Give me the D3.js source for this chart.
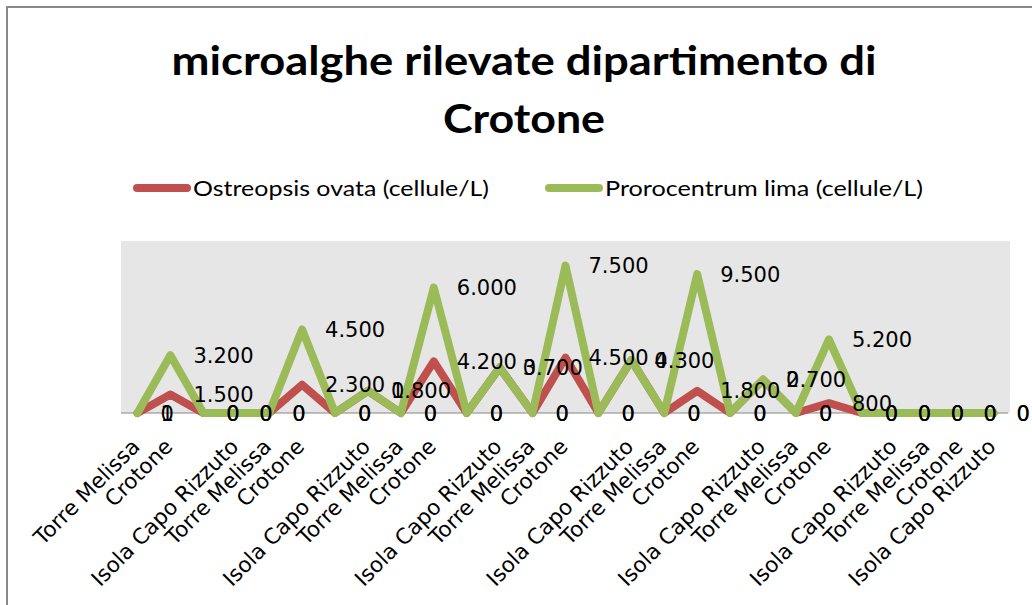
<!DOCTYPE html>
<html>
<head>
<meta charset="utf-8">
<script src="https://cdn.jsdelivr.net/npm/d3@7"></script>
<style>
  body { margin: 0; background: #fff; }
  svg { display: block; }
</style>
</head>
<body>
<div id="chart"></div>
<script>
// categories (blank entries are the unlabelled rows of the sheet)
const categories = [
    'Torre Melissa', 'Crotone', '', 'Isola Capo Rizzuto',
    'Torre Melissa', 'Crotone', '', 'Isola Capo Rizzuto',
    'Torre Melissa', 'Crotone', '', 'Isola Capo Rizzuto',
    'Torre Melissa', 'Crotone', '', 'Isola Capo Rizzuto',
    'Torre Melissa', 'Crotone', '', 'Isola Capo Rizzuto',
    'Torre Melissa', 'Crotone', '', 'Isola Capo Rizzuto',
    'Torre Melissa', 'Crotone', 'Isola Capo Rizzuto'
];
const ostreopsis = [1, 1500, 0, 0, 0, 2300, 0, 1800, 0, 4200, 0, 3700, 0, 4500, 0, 4300, 0, 1800, 0, 2700, 0, 800, 0, 0, 0, 0, 0];
const prorocentrum = [0, 3200, 0, 0, 0, 4500, 0, 0, 0, 6000, 0, 0, 0, 7500, 0, 0, 0, 9500, 0, 0, 0, 5200, 0, 0, 0, 0, 0];
const seriesNames = ['Ostreopsis ovata (cellule/L)', 'Prorocentrum lima (cellule/L)'];
const seriesColors = ['#c0504d', '#9bbb59'];
const titleLines = ['microalghe rilevate dipartimento di', 'Crotone'];

const width = 1032;
const height = 605;
const plot = { left: 121, right: 1010, top: 241, bottom: 413 };

const svg = d3.select('#chart').append('svg')
    .attr('width', width)
    .attr('height', height);

// chart area border (right and bottom edges fall outside the window)
svg.append('rect')
    .attr('x', 7)
    .attr('y', 7)
    .attr('width', width + 20)
    .attr('height', height + 20)
    .attr('fill', '#fff')
    .attr('stroke', '#898989')
    .attr('stroke-width', 2);

// title, stretched a bit like the original rendering
const titleWidths = [705, 162];
svg.append('g').selectAll('text')
    .data(titleLines)
    .join('text')
    .attr('x', 524)
    .attr('y', (d, i) => 75 + i * 58)
    .attr('text-anchor', 'middle')
    .attr('font-family', 'Lato, sans-serif')
    .attr('font-weight', 'bold')
    .attr('font-size', 41)
    .attr('fill', '#000')
    .attr('textLength', (d, i) => titleWidths[i])
    .attr('lengthAdjust', 'spacingAndGlyphs')
    .text(d => d);

// legend
const legendX = [133, 545];
const legendWidths = [296, 318];
const legend = svg.append('g').selectAll('g')
    .data(seriesNames)
    .join('g')
    .attr('transform', (d, i) => `translate(${legendX[i]},188)`);
legend.append('line')
    .attr('x1', 4)
    .attr('x2', 54)
    .attr('stroke', (d, i) => seriesColors[i])
    .attr('stroke-width', 8)
    .attr('stroke-linecap', 'round');
legend.append('text')
    .attr('x', 60)
    .attr('dy', '0.35em')
    .attr('font-family', 'Lato, sans-serif')
    .attr('font-size', 22)
    .attr('fill', '#000')
    .attr('textLength', (d, i) => legendWidths[i])
    .attr('lengthAdjust', 'spacingAndGlyphs')
    .text(d => d);

// stacked series
const rows = categories.map((c, i) => ({ i, a: ostreopsis[i], b: prorocentrum[i] }));
const stacked = d3.stack().keys(['a', 'b'])(rows);

const x = d3.scalePoint()
    .domain(d3.range(categories.length))
    .range([plot.left, plot.right])
    .padding(0.5);
const y = d3.scaleLinear()
    .domain([0, 14000])
    .range([plot.bottom, plot.top]);

svg.append('rect')
    .attr('x', plot.left)
    .attr('y', plot.top)
    .attr('width', plot.right - plot.left)
    .attr('height', plot.bottom - plot.top)
    .attr('fill', '#e6e6e6');

// category axis, no ticks, rotated labels
const xAxis = svg.append('g')
    .attr('transform', `translate(0,${plot.bottom})`)
    .call(d3.axisBottom(x).tickSize(0).tickSizeOuter(0).tickFormat(i => categories[i]));
xAxis.select('.domain')
    .attr('d', `M${plot.left},0H${plot.right - 2}`)
    .attr('stroke', '#868686');
xAxis.selectAll('text')
    .attr('font-family', 'DejaVu Sans, sans-serif')
    .attr('font-size', 21.5)
    .attr('fill', '#000')
    .attr('text-anchor', 'end')
    .attr('dy', null)
    .attr('y', null)
    .attr('transform', 'translate(3,35) rotate(-45)');

const line = d3.line()
    .x(d => x(d.data.i))
    .y(d => y(d[1]));

svg.append('g').selectAll('path')
    .data(stacked)
    .join('path')
    .attr('d', line)
    .attr('fill', 'none')
    .attr('stroke', (d, i) => seriesColors[i])
    .attr('stroke-width', 8)
    .attr('stroke-linejoin', 'round')
    .attr('stroke-linecap', 'round');

// data labels, to the right of each point
const it = d3.formatLocale({ decimal: ',', thousands: '.', grouping: [3], currency: ['€', ''] });
const fmt = it.format(',');
const values = [ostreopsis, prorocentrum];
stacked.forEach((s, k) => {
    svg.append('g').selectAll('text')
        .data(s)
        .join('text')
        .attr('x', d => x(d.data.i) + 23)
        .attr('y', d => y(d[1]))
        .attr('dy', '0.36em')
        .attr('font-family', 'DejaVu Sans, sans-serif')
        .attr('font-size', 21)
        .attr('fill', '#000')
        .text(d => fmt(values[k][d.data.i]));
});
</script>
</body>
</html>
